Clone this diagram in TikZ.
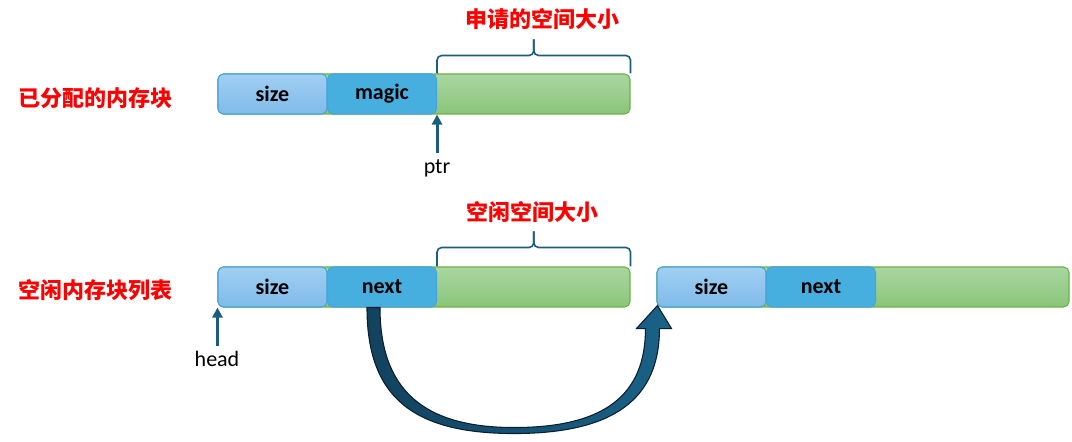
\documentclass[tikz,border=0pt]{standalone}
\usepackage{fontspec}
\setmainfont{Carlito}
\newfontfamily\cjk{Noto Sans CJK SC}
\usetikzlibrary{arrows.meta,calc}
\definecolor{szTop}{RGB}{160,207,243}
\definecolor{szBot}{RGB}{128,187,233}
\definecolor{blkBorder}{RGB}{70,165,215}
\definecolor{mgFill}{RGB}{70,175,223}
\definecolor{grTop}{RGB}{170,214,162}
\definecolor{grBot}{RGB}{138,197,122}
\definecolor{grBorder}{RGB}{106,178,66}
\definecolor{darkBlue}{RGB}{28,92,124}
\definecolor{arrLeft}{RGB}{18,66,94}
\definecolor{arrRight}{RGB}{26,98,136}
\definecolor{arrEdge}{RGB}{10,30,45}
\tikzset{
  blk/.style={draw=blkBorder, line width=0.8pt, rounded corners=4pt, minimum height=30pt,
    minimum width=81.75pt, inner sep=0pt, font=\fontsize{16.5}{18}\selectfont\bfseries},
  sizeblk/.style={blk, top color=szTop, bottom color=szBot},
  ptrblk/.style={blk, fill=mgFill},
  greenbar/.style={draw=grBorder, line width=0.8pt, rounded corners=4pt, minimum height=30pt,
    minimum width=309pt, inner sep=0pt, top color=grTop, bottom color=grBot},
  bracepath/.style={draw=darkBlue, line width=1.2pt, rounded corners=3.5pt},
  redlabel/.style={text=red, font=\cjk\bfseries\fontsize{16.5}{18}\selectfont, inner sep=0pt},
  txtlabel/.style={font=\fontsize{16.5}{18}\selectfont, inner sep=0pt},
  pointer/.style={draw=darkBlue, line width=2.3pt, -{Triangle[width=7.5pt,length=7.5pt]}},
  blockarrow/.style={left color=arrLeft, right color=arrRight, draw=arrEdge, line width=0.8pt, line join=miter},
}
\begin{document}
\begin{tikzpicture}[x=0.75pt, y=-0.75pt]
\useasboundingbox (0,0) rectangle (1072,442);

% ---------- allocated block ----------
\node[greenbar] (g1) at (424,94) {};
\node[sizeblk] (s1) at (272.5,94) {size};
\node[ptrblk] (m1) at (382,94) {magic};
\node[redlabel] (l1) at (95,98) {已分配的内存块};
\coordinate (b1l) at (g1.north west -| m1.east);
\coordinate (b1r) at (g1.north east);
\path[bracepath] (b1l) -- ++(0,-18) -- ($(b1l)!0.5!(b1r)+(0,-18)$) -- ($(b1l)!0.5!(b1r)+(0,-34)$);
\path[bracepath] (b1r) -- ++(0,-18) -- ($(b1l)!0.5!(b1r)+(0,-18)$) -- ($(b1l)!0.5!(b1r)+(0,-34)$);
\node[redlabel, anchor=west] (t1) at (465,19) {申请的空间大小};
\node[txtlabel] (ptr) at (437,168) {ptr};
\coordinate (ptrtip) at (m1.south east);
\draw[pointer] ($(ptrtip)+(0,38)$) -- (ptrtip);

% ---------- free list ----------
\node[greenbar] (g2) at (424,287) {};
\node[sizeblk] (s2) at (272.5,287) {size};
\node[ptrblk] (n2) at (382,287) {next};
\node[greenbar] (g3) at (863,287) {};
\node[sizeblk] (s3) at (711.5,287) {size};
\node[ptrblk] (n3) at (821,287) {next};
\node[redlabel] (l2) at (95,290) {空闲内存块列表};
\coordinate (b2l) at (g2.north west -| n2.east);
\coordinate (b2r) at (g2.north east);
\path[bracepath] (b2l) -- ++(0,-19) -- ($(b2l)!0.5!(b2r)+(0,-19)$) -- ($(b2l)!0.5!(b2r)+(0,-35)$);
\path[bracepath] (b2r) -- ++(0,-19) -- ($(b2l)!0.5!(b2r)+(0,-19)$) -- ($(b2l)!0.5!(b2r)+(0,-35)$);
\node[txtlabel, redlabel, anchor=west] (t2) at (466,212) {空闲空间大小};
\node[txtlabel] (head) at (217,359) {head};
\coordinate (headtip) at (s2.south west);
\draw[pointer] ($(headtip)+(0,38)$) -- (headtip);

% ---------- big curved arrow (next -> following block) ----------
\coordinate (as) at ($(n2.south)+(-8,0)$);
\coordinate (atip) at (s3.south west);
\path[blockarrow]
  ($(as)+(-7,0)$)
  .. controls ($(as)+(-7,88)$) and ($(as)+(37,126)$) .. ($(as)+(140,126)$)
  .. controls ($(as)+(239,126)$) and ($(atip)+(3,92)$) .. ($(atip)+(3,21)$)
  -- ($(atip)+(15,21)$) -- ($(atip)+(1,-2)$) -- ($(atip)+(-20,21)$) -- ($(atip)+(-11,21)$)
  .. controls ($(atip)+(-11,88)$) and ($(as)+(230,120)$) .. ($(as)+(140,120)$)
  .. controls ($(as)+(49,120)$) and ($(as)+(6,82)$) .. ($(as)+(6,0)$)
  -- cycle;
\end{tikzpicture}
\end{document}
